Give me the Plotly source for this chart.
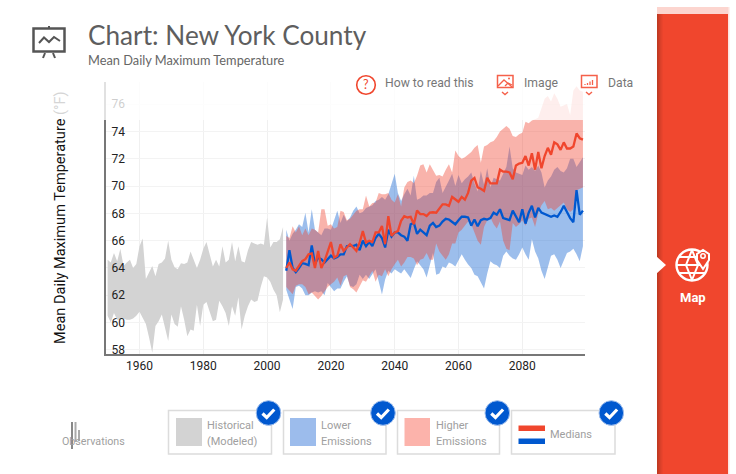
import plotly.graph_objects as go

hist_years = list(range(1950, 2006))
future_years = list(range(2006, 2100))

hist_high = [64.6,64.4,65.1,64.5,65.4,64.15,64.4,64.6,64.0,64.3,65.6,66.15,63.2,63.7,64.15,63.4,64.3,64.4,64.7,66.0,
 64.6,64.05,63.9,64.35,64.3,64.4,65.2,64.6,64.0,64.6,65.4,65.9,65.0,64.1,64.6,64.1,65.6,64.4,64.6,65.9,
 64.5,65.6,64.5,64.4,65.3,65.9,65.8,65.7,65.8,65.7,67.7,65.5,65.9,65.9,66.1,67.0]
hist_low = [60.5,60.0,60.7,60.2,60.2,60.3,60.2,60.2,60.3,60.5,60.8,60.3,59.9,58.9,57.8,59.75,60.1,60.6,59.6,58.65,
 60.6,59.9,59.7,61.2,60.2,59.0,59.5,59.4,61.3,59.75,61.3,61.5,60.8,60.1,60.2,61.6,61.2,60.7,59.75,61.2,
 60.5,61.85,59.5,60.5,61.2,61.7,61.5,61.6,62.6,63.4,63.3,63.0,62.4,62.0,60.75,61.7]

lower_high = [66.8,66.0,66.5,66.8,67.2,67.0,68.05,66.6,68.3,66.8,66.6,66.4,66.9,66.9,66.8,67.5,68.2,67.3,67.9,67.4,
 67.7,68.2,68.5,68.0,68.1,68.4,68.5,68.6,68.9,69.0,69.2,69.0,69.4,70.2,70.9,69.5,68.9,69.4,69.8,69.3,
 70.75,69.0,69.1,69.3,69.3,69.5,69.5,70.3,70.6,69.5,69.9,70.4,70.9,70.0,70.8,70.2,70.5,70.7,71.0,70.2,
 69.6,71.1,70.1,71.3,69.9,70.6,70.5,70.4,70.9,71.4,72.9,71.3,71.0,70.9,70.8,71.5,71.2,71.4,71.1,71.5,
 71.0,69.9,70.4,70.7,71.2,71.4,71.1,71.0,71.3,72.0,72.0,71.4,71.8,72.1]
lower_low = [62.4,61.7,61.0,62.6,62.7,62.5,62.0,62.0,62.2,62.3,62.2,62.3,62.0,62.9,62.6,62.3,62.5,62.5,63.0,63.4,
 62.7,62.6,62.8,63.5,63.2,63.5,63.2,63.6,63.9,63.0,62.05,63.15,63.8,63.6,63.9,63.75,63.6,63.9,63.6,63.27,
 63.9,64.5,64.2,63.9,63.3,64.2,65.1,63.5,63.6,64.1,64.0,64.4,64.3,64.1,64.5,65.0,64.6,64.25,64.0,63.5,
 63.4,63.0,62.5,63.6,64.5,64.3,64.2,64.0,64.9,65.2,64.9,64.7,64.6,65.0,65.5,65.0,64.6,66.1,65.2,64.7,
 63.8,63.2,64.0,64.9,65.0,64.6,64.0,64.6,65.1,65.2,65.4,65.0,64.5,65.6]
higher_high = [66.35,66.2,67.05,66.6,67.05,66.4,66.9,66.4,66.9,66.8,66.6,68.3,68.3,67.1,67.2,66.9,67.0,68.2,68.1,67.5,
 67.6,67.9,68.2,68.3,68.3,69.3,68.5,68.75,68.8,69.5,69.4,69.4,69.5,69.0,68.8,69.4,68.5,69.9,70.3,70.4,
 70.2,70.75,71.5,71.6,71.0,71.6,71.2,70.75,70.8,70.7,71.2,71.6,71.0,72.6,72.2,72.0,72.1,72.3,72.5,72.8,
 73.0,71.7,72.9,73.0,73.2,73.3,73.6,74.0,74.2,74.4,74.2,73.67,73.6,73.8,73.9,74.7,74.6,74.8,74.9,75.0,
 75.7,76.4,76.6,76.2,76.8,76.4,75.8,75.9,76.0,75.2,77.0,77.3,77.0,76.9]
higher_low = [62.6,62.3,62.07,62.7,62.8,62.8,62.6,62.07,62.2,61.95,61.7,61.95,62.3,62.6,62.8,63.0,63.3,62.7,63.4,63.5,
 62.6,62.45,62.2,62.6,63.1,63.0,63.4,63.8,63.0,63.5,63.4,63.9,63.4,63.9,64.27,64.6,64.1,64.4,64.8,64.8,
 64.7,64.2,64.6,64.7,65.1,64.6,64.6,65.8,65.2,64.9,64.6,65.0,65.8,65.8,66.6,66.8,67.1,67.4,67.2,66.6,
 66.0,65.7,67.0,67.5,67.7,67.2,66.9,67.4,66.0,65.4,65.3,67.3,67.0,67.2,67.5,67.1,67.6,67.7,67.0,68.0,
 68.6,68.9,68.3,68.4,68.2,68.4,68.6,68.8,68.3,68.1,68.3,69.7,69.8,69.9]
lower_median = [63.8,65.3,64.0,63.7,64.0,64.35,64.3,64.2,65.65,64.3,64.75,64.65,64.4,64.65,64.9,64.7,64.8,65.0,65.0,65.6,
 65.65,65.6,65.7,65.3,66.0,65.6,65.9,65.6,66.2,66.5,66.2,65.5,66.8,66.3,66.6,66.6,66.4,66.3,66.0,67.2,
 67.3,66.5,66.8,66.6,66.4,67.1,67.3,67.0,67.1,67.4,67.6,67.55,67.35,67.2,67.5,67.75,67.75,67.7,67.1,67.55,
 67.05,67.5,67.6,67.55,67.65,68.05,67.9,68.3,67.65,67.6,67.5,68.2,67.75,67.35,68.3,67.25,68.05,68.55,67.7,68.4,
 68.05,67.95,67.85,67.75,67.85,67.75,68.1,68.55,68.1,67.65,67.35,69.7,67.9,68.2]
higher_median = [64.0,64.4,63.9,63.8,64.15,64.5,64.64,65.0,65.07,64.0,65.25,64.0,64.5,65.25,65.9,64.76,64.9,65.74,65.25,65.5,
 65.74,65.5,65.25,65.85,66.7,65.86,66.0,65.9,66.6,66.6,67.07,65.74,67.8,66.35,66.6,66.7,67.45,67.8,67.7,67.75,
 67.2,68.2,67.95,67.95,67.8,68.05,68.08,68.05,68.4,68.66,68.66,68.55,69.2,69.05,68.85,69.2,69.0,69.5,70.4,70.6,
 69.9,69.8,69.64,70.6,70.2,70.2,70.2,71.2,71.05,71.05,71.0,70.5,71.5,71.65,71.7,72.2,71.5,72.4,71.2,72.5,
 71.3,72.2,72.8,72.3,73.2,73.05,72.65,73.2,72.75,72.75,72.9,73.85,73.5,73.4]

year_ticks = [1960, 1980, 2000, 2020, 2040, 2060, 2080]
temp_ticks = [58, 60, 62, 64, 66, 68, 70, 72, 74, 76]

RED = "#f0462d"
BLUE = "#0058cf"
GREY = "#d3d3d3"
L, R, T, B = 106, 585, 82, 354


def fx(x):
    return (x - L) / (R - L)


def fy(y):
    return (B - y) / (B - T)


def path(pts, close=False):
    s = "M " + " L ".join(f"{fx(x):.5f},{fy(y):.5f}" for x, y in pts)
    return s + (" Z" if close else "")


shapes = []
annots = []


def rect(x0, y0, x1, y1, fill=None, line=None, w=1, opacity=1):
    shapes.append(dict(type="rect", xref="paper", yref="paper", x0=fx(x0), x1=fx(x1), y0=fy(y0), y1=fy(y1),
                       fillcolor=fill or "rgba(0,0,0,0)", line=dict(color=line or "rgba(0,0,0,0)", width=w if line else 0),
                       opacity=opacity, layer="above"))


def circle(cx, cy, r, fill=None, line=None, w=1):
    shapes.append(dict(type="circle", xref="paper", yref="paper", x0=fx(cx - r), x1=fx(cx + r), y0=fy(cy + r), y1=fy(cy - r),
                       fillcolor=fill or "rgba(0,0,0,0)", line=dict(color=line or "rgba(0,0,0,0)", width=w if line else 0),
                       layer="above"))


def poly(pts, color=None, w=1.5, fill=None, close=False):
    shapes.append(dict(type="path", xref="paper", yref="paper", path=path(pts, close),
                       fillcolor=fill or "rgba(0,0,0,0)", line=dict(color=color or "rgba(0,0,0,0)", width=w if color else 0),
                       layer="above"))


def text(x, y, s, size=12, color="#777", family="Roboto", anchor="left", angle=0):
    annots.append(dict(xref="paper", yref="paper", x=fx(x), y=fy(y), text=s, showarrow=False, xanchor=anchor, yanchor="middle",
                       textangle=angle, font=dict(family=family, size=size, color=color), align="left",
                       borderpad=0, borderwidth=0))


# fade above the axis limit
rect(98, 80, 587, 120, fill="#ffffff", opacity=0.78)

# header
text(88, 35, "Chart: New York County", 26.2, "#5e5e5e", "Lato")
text(88, 60, "Mean Daily Maximum Temperature", 12.8, "#666", "Lato")
rect(33.5, 28.5, 64.5, 51.5, line="#555", w=2.5)
poly([(39, 43), (44, 37.5), (49, 42), (54, 37), (60, 41)], "#555", 2)
poly([(49, 26), (49, 28)], "#555", 2)
poly([(45, 53), (43, 58)], "#555", 2)
poly([(53, 53), (55, 58)], "#555", 2)

# toolbar
circle(366, 85, 9.3, line=RED, w=1.6)
text(366, 85, "?", 12.5, RED, "Lato", "center")
text(385, 83, "How to read this", 12.2, "#777")
rect(497.5, 75.5, 513, 87.5, line="#f5604a", w=1.5)
poly([(498, 86), (504, 80), (512, 87)], "#f5604a", 1.3)
poly([(505, 86), (508, 83), (512, 85)], "#f5604a", 1.3)
circle(509, 78.5, 1, fill="#f5604a")
poly([(502, 92), (505, 94.5), (508, 92)], "#f5604a", 1.4)
text(524, 83, "Image", 12.2, "#777")
rect(581.5, 75.5, 597, 87.5, line="#f5604a", w=1.5)
for bx, by in [(585, 84), (587.5, 83), (590, 81.5), (592.5, 80)]:
    poly([(bx, 85), (bx, by)], "#f5604a", 1.3)
poly([(586, 92), (589, 94.5), (592, 92)], "#f5604a", 1.4)
text(608, 83, "Data", 12.2, "#777")

# y title
text(60, 218, "Mean Daily Maximum Temperature <span style='color:#d5d5d5'>(°F)</span>", 14.55, "#111", "Roboto", "center", -90)

# legend
for bx0, bx1 in [(168.5, 271.5), (283.5, 386), (397.5, 499.5), (511.5, 615)]:
    rect(bx0, 410.5, bx1, 454, line="#dcdcdc", w=1.5)
rect(176, 418, 202, 446, fill=GREY)
rect(290, 418, 316, 446, fill="#9cbcec")
rect(404.5, 418, 430, 446, fill="#fcb3ab")
rect(518.5, 425.5, 545, 431, fill=RED)
rect(518.5, 438.5, 545, 444, fill=BLUE)
text(207, 425.5, "Historical", 11, "#a0a0a0")
text(207, 441, "(Modeled)", 11, "#a0a0a0")
text(321, 425.5, "Lower", 11, "#a0a0a0")
text(321, 441, "Emissions", 11, "#a0a0a0")
text(436, 425.5, "Higher", 11, "#a0a0a0")
text(436, 441, "Emissions", 11, "#a0a0a0")
text(550, 434, "Medians", 11, "#a0a0a0")
for cx in [268.5, 383, 497.3, 611.3]:
    circle(cx, 413, 12.3, fill=BLUE, line="#9cbcec", w=1)
    poly([(cx - 6, 413.5), (cx - 1.8, 417.5), (cx + 5.8, 409.5)], "#ffffff", 3.2)

# observations
text(62, 441, "Observations", 10.7, "#a0a0a0")
poly([(72, 422), (72, 449)], "#888", 2)
poly([(75.5, 422), (75.5, 442)], "#aaa", 2)
poly([(79, 430), (79, 441)], "#aaa", 2)

# side panel
rect(657, 7, 728, 14, fill="#fcd5cf")
rect(657, 14, 728, 474, fill=RED)
for i, c in enumerate(["#c0391f", "#c83b24", "#d13e27", "#da4029", "#e2422b", "#e9442c"]):
    rect(657 + i, 14, 658 + i, 474, fill=c)
rect(728, 7, 729.5, 474, fill="#fde3df")
poly([(656, 256), (666, 265), (656, 274)], fill="#ffffff", close=True)
circle(692, 265, 15.5, line="#ffffff", w=2.4)
poly([(677, 265), (707, 265)], "#ffffff", 2)
poly([(679, 257), (698, 257)], "#ffffff", 2)
poly([(679, 273), (705, 273)], "#ffffff", 2)
poly([(692, 250), (686, 265), (692, 280)], "#ffffff", 2)
poly([(692, 250), (698, 265), (692, 280)], "#ffffff", 2)
poly([(703, 269), (697, 260), (697, 254), (703, 250), (709, 254), (709, 260)], "#ffffff", 2, fill=RED, close=True)
circle(703, 256, 2.2, line="#ffffff", w=1.5)
text(693, 297, "<b>Map</b>", 13, "#ffffff", "Roboto", "center")

fig = go.Figure()


def band(x, low, high, color):
    fig.add_trace(go.Scatter(x=x, y=low, mode="lines", line=dict(width=0), hoverinfo="skip", showlegend=False))
    fig.add_trace(go.Scatter(x=x, y=high, mode="lines", line=dict(width=0), fill="tonexty", fillcolor=color,
                             hoverinfo="skip", showlegend=False))


band(hist_years, hist_low, hist_high, GREY)
band(future_years, lower_low, lower_high, "rgba(0,88,207,0.39)")
band(future_years, higher_low, higher_high, "rgba(240,65,45,0.40)")
fig.add_trace(go.Scatter(x=future_years, y=lower_median, mode="lines", line=dict(color=BLUE, width=2.3),
                         name="Lower median", showlegend=False))
fig.add_trace(go.Scatter(x=future_years, y=higher_median, mode="lines", line=dict(color=RED, width=2.3),
                         name="Higher median", showlegend=False))

fig.update_layout(
    width=736, height=474, autosize=False,
    margin=dict(l=L, r=736 - R, t=T, b=474 - B, pad=0),
    paper_bgcolor="#ffffff", plot_bgcolor="#ffffff",
    shapes=shapes, annotations=annots, showlegend=False,
    font=dict(family="Roboto", size=12, color="#222"),
    xaxis=dict(range=[1949.5, 2099.65], tickmode="array", tickvals=year_ticks, ticks="", showgrid=True,
               gridcolor="#f0f0f0", gridwidth=1, zeroline=False, showline=True, linecolor="#777", linewidth=2,
               tickfont=dict(family="Roboto", size=12, color="#222")),
    yaxis=dict(range=[57.7, 77.62], tickmode="array", tickvals=temp_ticks, ticks="", showgrid=True,
               gridcolor="#f3f3f3", gridwidth=1, zeroline=False, showline=True, linecolor="#777", linewidth=2,
               ticklabelposition="inside", ticklabeloverflow="allow", ticklabelstandoff=5,
               tickfont=dict(family="Roboto", size=12, color="#222")),
)
fig.write_html("out.html", config={"displayModeBar": False},
               post_script="document.body.style.margin='0';document.documentElement.style.overflow='hidden';")
